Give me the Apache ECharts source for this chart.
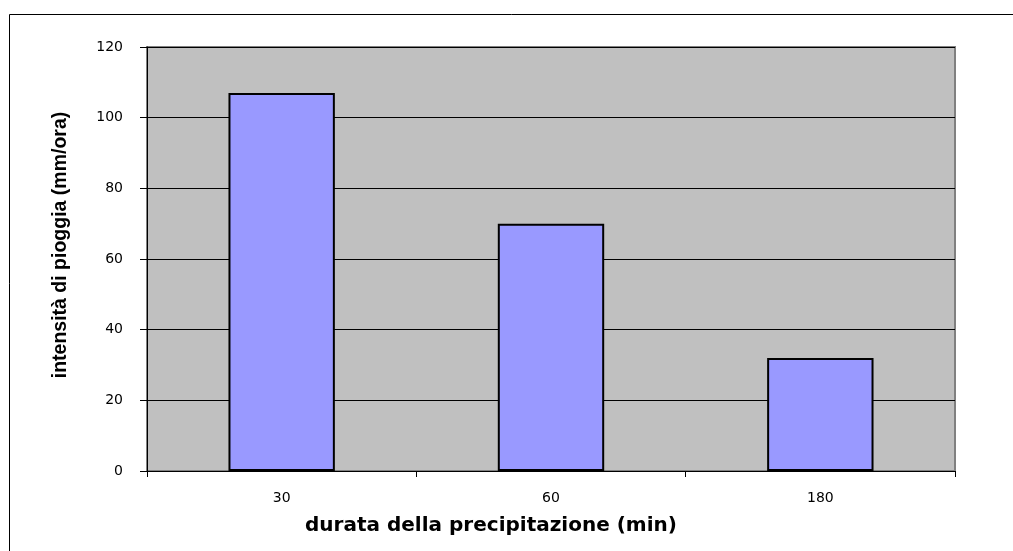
<!DOCTYPE html>
<html>
<head>
<meta charset="utf-8">
<script src="https://cdn.jsdelivr.net/npm/echarts@6/dist/echarts.min.js"></script>
<style>
html, body { margin: 0; padding: 0; background: #fff; }
#chart { width: 1013px; height: 551px; }
</style>
</head>
<body>
<div id="chart"></div>
<script>
// dati
const durate = ['30', '60', '180']
const intensita = [107, 70, 32]
const yTicks = { min: 0, max: 120, interval: 20 }

const chart = echarts.init(document.getElementById('chart'))

const option = {
  animation: false,
  graphic: [{
    type: 'rect',
    shape: { x: 9.5, y: 14.5, width: 1010, height: 560 },
    style: { fill: null, stroke: '#000', lineWidth: 1 },
    z: -10
  }],
  grid: {
    left: 147,
    top: 47,
    right: 58,
    bottom: 80,
    show: true,
    backgroundColor: '#c0c0c0',
    borderColor: '#808080',
    borderWidth: 2
  },
  xAxis: {
    type: 'category',
    data: durate,
    name: 'durata della precipitazione (min)',
    nameLocation: 'middle',
    nameGap: 45,
    nameTextStyle: {
      fontFamily: 'DejaVu Sans',
      fontWeight: 'bold',
      fontSize: 20,
      color: '#000',
      padding: [0, 120, 0, 0]
    },
    axisLine: { lineStyle: { color: '#000', width: 1 } },
    axisTick: { show: true, length: 6, lineStyle: { color: '#000' } },
    axisLabel: {
      margin: 20,
      fontFamily: 'DejaVu Sans',
      fontSize: 14,
      color: '#000'
    }
  },
  yAxis: {
    type: 'value',
    min: yTicks.min,
    max: yTicks.max,
    interval: yTicks.interval,
    name: 'intensità di pioggia (mm/ora)',
    nameLocation: 'middle',
    nameGap: 76,
    nameTextStyle: {
      fontFamily: 'Liberation Sans',
      fontWeight: 'bold',
      fontSize: 19.5,
      color: '#000',
      padding: [0, 0, 0, 28]
    },
    axisLine: { show: true, lineStyle: { color: '#000', width: 1 } },
    axisTick: { show: true, length: 7, lineStyle: { color: '#000' } },
    axisLabel: {
      margin: 24,
      fontFamily: 'DejaVu Sans',
      fontSize: 14,
      color: '#000'
    },
    splitLine: { show: true, lineStyle: { color: '#000', width: 1 } }
  },
  series: [{
    type: 'bar',
    data: intensita,
    barWidth: '39.5%',
    itemStyle: {
      color: '#9999ff',
      borderColor: '#000',
      borderWidth: 2
    }
  }]
}

chart.setOption(option)
</script>
</body>
</html>
